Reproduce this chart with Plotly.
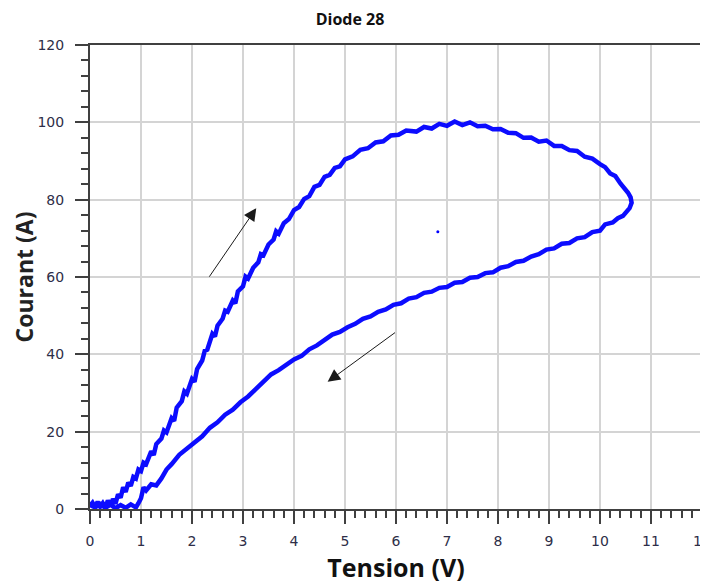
import plotly.graph_objects as go

# Upper branch (rising current)
up_x = [0.00, 0.05, 0.10, 0.15, 0.20, 0.25, 0.30, 0.35, 0.40, 0.45, 0.50, 0.55, 0.60, 0.65, 0.70, 0.75,
        0.80, 0.85, 0.90, 0.95, 1.00, 1.05, 1.10, 1.20, 1.25, 1.30, 1.40, 1.45, 1.50, 1.60, 1.65, 1.70,
        1.80, 1.85, 1.90, 2.00, 2.05, 2.10, 2.20, 2.25, 2.30, 2.40, 2.45, 2.50, 2.60, 2.65, 2.70, 2.80,
        2.85, 2.90, 3.00, 3.05, 3.10, 3.20, 3.30, 3.35, 3.40, 3.50, 3.60, 3.65, 3.70, 3.80, 3.90, 4.00,
        4.10, 4.20, 4.30, 4.40, 4.50, 4.60, 4.70, 4.80, 4.90, 5.00, 5.15, 5.30, 5.45, 5.60, 5.75, 5.90,
        6.05, 6.20, 6.40, 6.55, 6.70, 6.85, 7.00, 7.15, 7.30, 7.45, 7.60, 7.75, 7.90, 8.05, 8.20, 8.35,
        8.50, 8.65, 8.80, 8.95, 9.10, 9.25, 9.40, 9.55, 9.70, 9.85, 10.00, 10.10, 10.20, 10.30, 10.40,
        10.45, 10.55, 10.60, 10.62]
up_y = [0.8, 1.6, 0.4, 1.9, 0.6, 1.5, 0.3, 2.2, 0.9, 2.6, 1.4, 3.8, 2.9, 5.6, 4.4, 6.8,
        6.0, 8.3, 7.9, 10.2, 9.8, 12.0, 11.6, 14.9, 14.0, 16.8, 18.2, 20.3, 19.8, 23.5, 22.8, 26.2,
        27.9, 30.4, 29.8, 33.6, 32.9, 36.2, 38.4, 40.9, 41.2, 45.3, 44.6, 47.4, 49.2, 51.3, 51.0, 53.9,
        53.2, 56.3, 57.6, 60.1, 59.6, 62.4, 63.8, 65.9, 65.6, 68.4, 69.7, 71.8, 71.2, 73.9, 75.0, 77.3,
        78.1, 80.2, 80.9, 83.3, 83.8, 85.9, 86.4, 88.2, 88.6, 90.4, 91.2, 92.9, 93.3, 94.8, 95.1, 96.6,
        96.8, 97.9, 97.6, 98.8, 98.4, 99.6, 99.1, 100.2, 99.3, 100.0, 99.0, 99.1, 98.2, 98.3, 97.3, 97.2,
        96.0, 96.1, 95.0, 95.3, 93.9, 93.9, 92.8, 92.6, 91.1, 90.6, 89.2, 88.4, 86.8, 86.1, 84.2,
        83.5, 81.8, 80.6, 79.2]

# Lower branch (falling current)
down_x = [10.58, 10.52, 10.45, 10.35, 10.25, 10.10, 10.00, 9.85, 9.70, 9.55, 9.40, 9.25, 9.10, 8.95,
          8.80, 8.65, 8.50, 8.35, 8.20, 8.05, 7.90, 7.75, 7.60, 7.45, 7.30, 7.15, 7.00, 6.85, 6.70,
          6.55, 6.40, 6.25, 6.10, 5.95, 5.80, 5.65, 5.50, 5.35, 5.20, 5.05, 4.90, 4.75, 4.60, 4.45,
          4.30, 4.15, 4.00, 3.85, 3.70, 3.55, 3.40, 3.25, 3.10, 2.95, 2.80, 2.65, 2.50, 2.35, 2.20,
          2.05, 1.90, 1.75, 1.60, 1.50, 1.40, 1.30, 1.20, 1.10, 1.05, 1.00, 0.95, 0.90, 0.80, 0.70,
          0.60, 0.50, 0.40, 0.30, 0.20, 0.10, 0.00]
down_y = [77.8, 77.0, 75.8, 75.2, 74.1, 73.6, 72.0, 71.6, 70.3, 70.0, 68.8, 68.6, 67.4, 67.1,
          65.9, 65.3, 64.2, 63.9, 62.8, 62.4, 61.2, 61.0, 60.0, 59.8, 58.7, 58.5, 57.4, 57.2, 56.2,
          55.9, 54.8, 54.4, 53.2, 52.8, 51.6, 51.0, 49.8, 49.2, 47.9, 47.0, 45.8, 45.1, 43.6, 42.3,
          41.3, 39.6, 38.7, 37.2, 35.9, 34.8, 32.7, 31.0, 29.1, 27.6, 25.7, 24.4, 22.4, 21.0, 18.8,
          17.2, 15.5, 14.0, 11.6, 10.2, 7.9, 6.1, 6.4, 4.8, 5.6, 2.8, 1.5, 0.4, 1.2, 0.3,
          1.0, 0.2, 1.1, 0.3, 1.3, 0.4, 1.0]

stray_x = [6.82]
stray_y = [71.7]

# Arrows: (tail_x, tail_y, head_x, head_y)
arrows = [(2.32, 59.7, 3.26, 77.8), (6.01, 45.9, 4.66, 32.9)]

title_text = "Diode 28"
x_title = "Tension (V)"
y_title = "Courant (A)"

blue = "#0000FF"
axis_col = "#404040"
tick_font = dict(family="DejaVu Sans, sans-serif", size=14, color="#2e2e48")
title_family = "Open Sans, DejaVu Sans, sans-serif"

# the page body adds an 8px offset, so the figure is 700x576
W, H = 700, 576

fig = go.Figure()
fig.add_trace(go.Scatter(x=up_x + down_x, y=up_y + down_y, mode="lines",
                         line=dict(color=blue, width=4.5), opacity=0.95,
                         showlegend=False, hoverinfo="skip", cliponaxis=True))
fig.add_trace(go.Scatter(x=stray_x, y=stray_y, mode="markers",
                         marker=dict(color=blue, size=3), showlegend=False))

for tx, ty, hx, hy in arrows:
    fig.add_annotation(x=hx, y=hy, ax=tx, ay=ty, xref="x", yref="y", axref="x", ayref="y",
                       text="", showarrow=True, arrowhead=2, arrowsize=2.5, arrowwidth=1,
                       arrowcolor="#1a1a1a")

fig.update_layout(
    width=W, height=H,
    margin=dict(l=82, r=6, t=37, b=75, autoexpand=False),
    paper_bgcolor="white", plot_bgcolor="white",
    title=dict(text="<b>" + title_text + "</b>", x=342 / W, xanchor="center",
               y=1 - 11 / H, yref="container", yanchor="middle",
               font=dict(family=title_family, size=16, color="#111")),
    showlegend=False,
)

fig.update_xaxes(
    range=[0, 12], dtick=1, tick0=0, automargin=False, ticklabeloverflow="allow",
    showline=True, linecolor=axis_col, linewidth=2, mirror=True,
    ticks="outside", ticklen=13, tickwidth=1.5, tickcolor=axis_col, ticklabelstandoff=5,
    minor=dict(dtick=0.2, ticks="outside", ticklen=7, tickwidth=1.5, tickcolor=axis_col, showgrid=False),
    showgrid=True, gridcolor="#d4d4d4", gridwidth=1.5, zeroline=False,
    tickfont=tick_font,
    title=dict(text="<b>" + x_title + "</b>", standoff=17,
               font=dict(family=title_family, size=25, color="#111")),
)
fig.update_yaxes(
    range=[0, 120], dtick=20, tick0=0, automargin=False, ticklabeloverflow="allow",
    showline=True, linecolor=axis_col, linewidth=2, mirror=True,
    ticks="outside", ticklen=13, tickwidth=1.5, tickcolor=axis_col, ticklabelstandoff=8,
    minor=dict(dtick=4, ticks="outside", ticklen=7, tickwidth=1.5, tickcolor=axis_col, showgrid=False),
    showgrid=True, gridcolor="#d4d4d4", gridwidth=1.5, zeroline=False,
    tickfont=tick_font,
    title=dict(text="<b>" + y_title + "</b>", standoff=2,
               font=dict(family=title_family, size=23, color="#222")),
)

fig.write_html("out.html")
